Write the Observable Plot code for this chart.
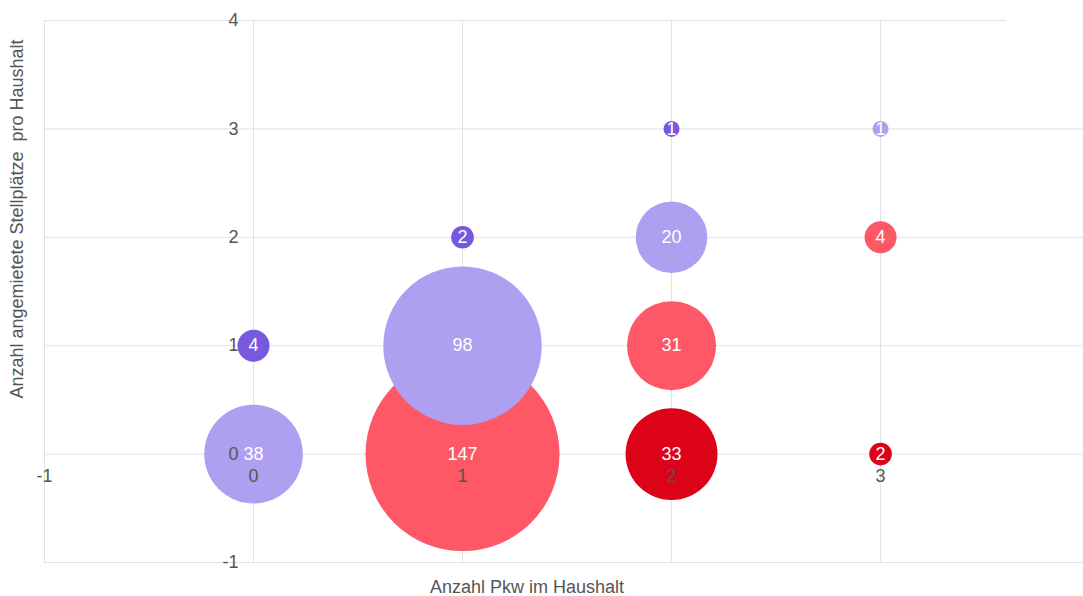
<!DOCTYPE html>
<html><head><meta charset="utf-8">
<script src="https://cdn.jsdelivr.net/npm/d3@7"></script>
<script src="https://cdn.jsdelivr.net/npm/@observablehq/plot@0.6"></script>
<style>
html,body{margin:0;padding:0;background:#fff;}
</style>
</head><body><div id="chart"></div>
<script>
// Data
const cars   = [0, 0, 1, 1, 1, 2, 2, 2, 2, 3, 3, 3];
const spaces = [0, 1, 0, 1, 2, 0, 1, 2, 3, 0, 2, 3];
const counts = [38, 4, 147, 98, 2, 33, 31, 20, 1, 2, 4, 1];
const groups = ["gleich", "mehr Stellplätze", "1 Pkw mehr", "gleich", "mehr Stellplätze", "2+ Pkw mehr", "1 Pkw mehr", "gleich", "mehr Stellplätze", "2+ Pkw mehr", "1 Pkw mehr", "gleich"];
const groupNames  = ["gleich", "mehr Stellplätze", "1 Pkw mehr", "2+ Pkw mehr"];
const groupColors = ["#ae9ff0", "#7759e0", "#fe5866", "#dc0318"];
const xTicks = [-1, 0, 1, 2, 3];
const yTicks = [-1, 0, 1, 2, 3, 4];
const xTitle = "Anzahl Pkw im Haushalt";
const yTitle = "Anzahl angemietete Stellplätze  pro Haushalt";

const data = cars.map((c, i) => ({cars: c, spaces: spaces[i], count: counts[i], group: groups[i]}));
const xMax = 3.971;
const font = "'Liberation Sans', Arial, sans-serif";

const chart = Plot.plot({
  width: 1083, height: 596,
  marginLeft: 44, marginRight: 0, marginTop: 20, marginBottom: 34,
  x: {domain: [-1, xMax], axis: null},
  y: {domain: [-1, 4], axis: null},
  r: {type: "sqrt", domain: [0, 147], range: [0, 97]},
  color: {domain: groupNames, range: groupColors},
  style: {fontFamily: font, fontSize: "18px", background: "#fff", overflow: "visible"},
  marks: [
    Plot.ruleY(yTicks.filter(d => d < 4), {x1: -1, x2: xMax, stroke: "#e2e2e2", strokeWidth: 1}),
    Plot.ruleY([4], {x1: -1, x2: 3.603, stroke: "#e2e2e2", strokeWidth: 1}),
    Plot.ruleX(xTicks, {y1: -1, y2: 4, stroke: "#e2e2e2", strokeWidth: 1}),
    Plot.dot(data, {x: "cars", y: "spaces", r: "count", fill: "group"}),
    Plot.text(xTicks, {x: d => d, y: 0, dy: 22, fill: "#555", fontSize: 18}),
    Plot.text(yTicks, {x: 0, y: d => d, dx: -15, textAnchor: "end", fill: "#555", fontSize: 18}),
    Plot.text(data, {x: "cars", y: "spaces", text: "count", fill: "#ffffff", fontSize: 18})
  ]
});

const svg = d3.select(chart);
svg.append("text")
  .attr("x", 527).attr("y", 588)
  .attr("text-anchor", "middle").attr("dominant-baseline", "middle")
  .attr("fill", "#555").style("font-size", "18px").style("font-family", font)
  .text(xTitle);
svg.append("text")
  .attr("transform", "translate(18,219) rotate(-90)")
  .attr("text-anchor", "middle").attr("dominant-baseline", "middle")
  .attr("fill", "#555").style("font-size", "18px").style("font-family", font)
  .style("white-space", "pre")
  .text(yTitle);

document.getElementById("chart").appendChild(chart);
</script>
</body></html>
